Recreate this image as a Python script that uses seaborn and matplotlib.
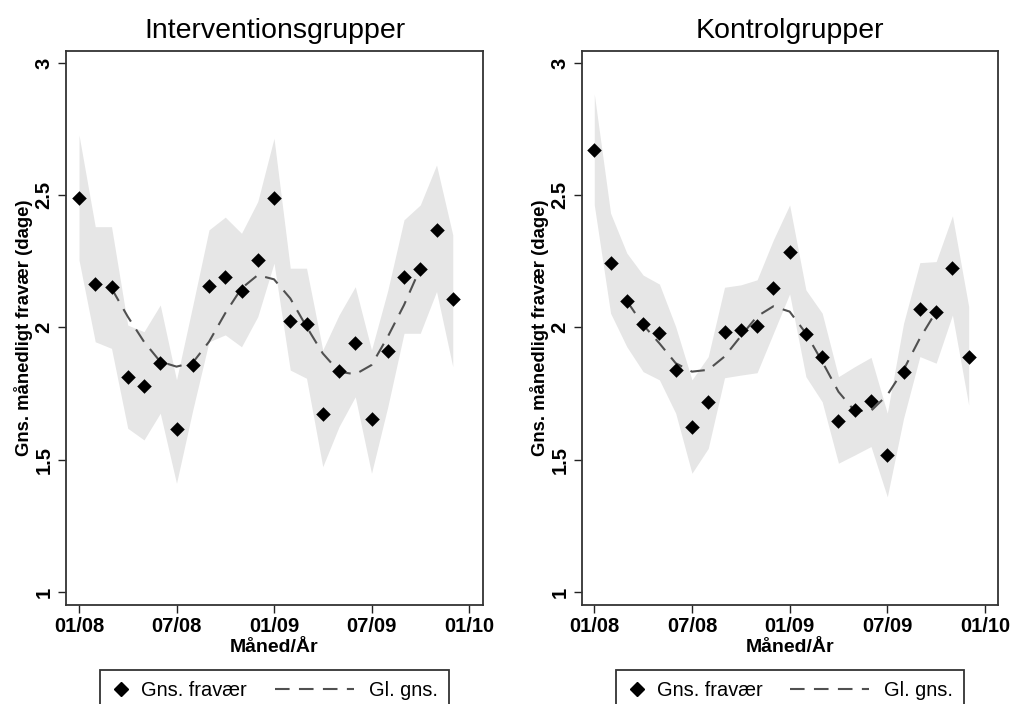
import numpy as np
import pandas as pd
import seaborn as sns
import matplotlib.pyplot as plt
from matplotlib.lines import Line2D
from matplotlib.legend_handler import HandlerBase

# month index, 0 = januar 2008
months = list(range(24))
tick_pos = [0, 6, 12, 18, 24]
tick_labels = ['01/08', '07/08', '01/09', '07/09', '01/10']
y_ticks = [1, 1.5, 2, 2.5, 3]
y_tick_labels = ['1', '1.5', '2', '2.5', '3']

# Interventionsgrupper
int_mean = [2.490, 2.163, 2.154, 1.814, 1.779, 1.867, 1.615, 1.858, 2.157, 2.192, 2.138, 2.255,
            2.490, 2.026, 2.014, 1.673, 1.835, 1.940, 1.653, 1.910, 2.192, 2.222, 2.370, 2.108]
int_upper = [2.728, 2.381, 2.381, 2.009, 1.984, 2.085, 1.802, 2.083, 2.369, 2.417, 2.356, 2.476,
             2.715, 2.224, 2.224, 1.915, 2.047, 2.154, 1.915, 2.140, 2.407, 2.463, 2.614, 2.350]
int_lower = [2.255, 1.946, 1.921, 1.619, 1.575, 1.676, 1.411, 1.688, 1.946, 1.972, 1.927, 2.041,
             2.243, 1.839, 1.808, 1.474, 1.625, 1.738, 1.449, 1.700, 1.978, 1.978, 2.136, 1.852]
# glidende gennemsnit, maaned 2..21
int_smooth = [2.148, 2.041, 1.946, 1.871, 1.852, 1.867, 1.946, 2.054, 2.148, 2.198,
              2.182, 2.110, 2.003, 1.902, 1.833, 1.823, 1.858, 1.965, 2.085, 2.224]

# Kontrolgrupper
ctl_mean = [2.671, 2.245, 2.100, 2.012, 1.980, 1.839, 1.625, 1.717, 1.982, 1.991, 2.006, 2.148,
            2.286, 1.975, 1.887, 1.648, 1.688, 1.722, 1.518, 1.833, 2.069, 2.060, 2.226, 1.890]
ctl_upper = [2.883, 2.432, 2.281, 2.198, 2.164, 2.003, 1.802, 1.890, 2.152, 2.161, 2.180, 2.331,
             2.463, 2.142, 2.054, 1.814, 1.852, 1.887, 1.676, 2.016, 2.245, 2.249, 2.422, 2.079]
ctl_lower = [2.463, 2.054, 1.927, 1.833, 1.802, 1.676, 1.449, 1.543, 1.810, 1.820, 1.829, 1.978,
             2.127, 1.814, 1.719, 1.487, 1.518, 1.550, 1.360, 1.657, 1.890, 1.865, 2.047, 1.707]
ctl_smooth = [2.100, 2.010, 1.940, 1.865, 1.833, 1.840, 1.890, 1.967, 2.042, 2.080,
              2.060, 1.978, 1.871, 1.757, 1.684, 1.685, 1.745, 1.840, 1.959, 2.060]

smooth_months = months[2:22]

LINE_COLOR = '#505050'
DASHES = [7, 4.5]


class WideDashHandler(HandlerBase):
    # dashed line that reaches back into the column gap, like the Stata legend
    def create_artists(self, legend, orig_handle, xdescent, ydescent, width, height,
                       fontsize, trans):
        y = height / 2 - ydescent
        x0 = -xdescent - 3.2 * fontsize
        x1 = -xdescent + width * 0.75
        line = Line2D([x0, x1], [y, y], color=LINE_COLOR, lw=1.5, dashes=DASHES)
        line.set_transform(trans)
        return [line]


sns.set_style('white')
plt.rcParams['font.family'] = ['Liberation Sans', 'DejaVu Sans']
plt.rcParams['text.color'] = 'black'
plt.rcParams['axes.labelcolor'] = 'black'
plt.rcParams['xtick.color'] = 'black'
plt.rcParams['ytick.color'] = 'black'

fig = plt.figure(figsize=(10.13, 7.04), dpi=100)
ax_left = fig.add_axes([66 / 1013, 1 - 605 / 704, 417 / 1013, 554 / 704])
ax_right = fig.add_axes([582 / 1013, 1 - 605 / 704, 416 / 1013, 554 / 704])

panels = [
    (ax_left, 'Interventionsgrupper', int_mean, int_upper, int_lower, int_smooth, (-0.8, 24.86)),
    (ax_right, 'Kontrolgrupper', ctl_mean, ctl_upper, ctl_lower, ctl_smooth, (-0.755, 24.8)),
]

for ax, title, mean, upper, lower, smooth, xlim in panels:
    df = pd.DataFrame({'month': months, 'mean': mean, 'upper': upper, 'lower': lower})
    sm = pd.DataFrame({'month': smooth_months, 'smooth': smooth})

    ax.fill_between(df['month'], df['lower'], df['upper'], color='#e6e6e6', lw=0, zorder=1)
    sns.lineplot(data=sm, x='month', y='smooth', ax=ax, color=LINE_COLOR, lw=1.5,
                 dashes=False, zorder=2)
    ax.lines[-1].set_dashes(DASHES)
    sns.scatterplot(data=df, x='month', y='mean', ax=ax, marker='D', s=55,
                    color='black', edgecolor='black', linewidth=0, zorder=3)

    ax.set_xlim(*xlim)
    ax.set_ylim(0.951, 3.045)
    ax.set_xticks(tick_pos)
    ax.set_xticklabels(tick_labels, fontsize=14.5, fontweight='bold')
    ax.set_yticks(y_ticks)
    ax.set_yticklabels(y_tick_labels, fontsize=14.5, fontweight='bold', rotation=90, va='center')
    ax.tick_params(axis='both', direction='out', length=6, width=1, color='#222222',
                   bottom=True, left=True, pad=3)

    for sp in ax.spines.values():
        sp.set_color('#333333')
        sp.set_linewidth(1.3)

    ax.set_title(title, fontsize=20.5, pad=9)
    ax.set_xlabel('Måned/År', fontsize=14, fontweight='bold', labelpad=1.5)
    ax.set_ylabel('Gns. månedligt fravær (dage)', fontsize=13.3, fontweight='bold')
    ax.yaxis.set_label_coords(-0.079, 0.5)

    handles = [
        Line2D([], [], marker='D', color='black', ls='none', markersize=7.5),
        Line2D([], [], color=LINE_COLOR, lw=1.5, dashes=DASHES),
    ]
    leg = ax.legend(handles, ['Gns. fravær', 'Gl. gns.'], loc='upper center',
                    bbox_to_anchor=(0.5, -0.117), ncol=2, fontsize=14.4, frameon=True,
                    fancybox=False, edgecolor='black', handlelength=1.0,
                    columnspacing=4.6, borderpad=0.55, handletextpad=0.5,
                    borderaxespad=0,
                    handler_map={handles[1]: WideDashHandler()})
    leg.get_frame().set_linewidth(1.3)

fig.savefig('out.png', dpi=100)
